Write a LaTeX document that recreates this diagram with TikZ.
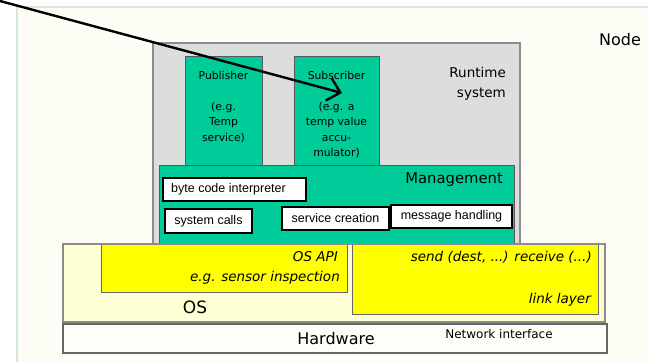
\documentclass[tikz,border=0pt]{standalone}
\usepackage{fontspec}
\setmainfont{DejaVu Sans}
\newfontfamily\arialf{Liberation Sans}
\usetikzlibrary{arrows.meta}
\definecolor{panelbg}{HTML}{FDFDF6}
\definecolor{panelrule}{HTML}{D3E8E0}
\definecolor{rtgray}{HTML}{DDDDDD}
\definecolor{rtedge}{HTML}{8C8C8C}
\definecolor{mgreen}{HTML}{00CC99}
\definecolor{osfill}{HTML}{FFFFD5}
\definecolor{yel}{HTML}{FFFF00}
\definecolor{hwfill}{HTML}{FEFEF8}
\begin{document}
\begin{tikzpicture}[x=1pt,y=-1pt,
  box/.style={anchor=north west, inner sep=0pt, outer sep=0pt},
  graybox/.style={box, draw=rtedge, fill=rtgray, line width=1.2pt},
  greenbox/.style={box, draw=black!65, fill=mgreen, line width=0.8pt},
  wbox/.style={box, draw=black, fill=white, line width=1.8pt},
  wtext/.style={font=\arialf\fontsize{12.5}{14}\selectfont, inner sep=0pt},
  osbox/.style={box, draw=rtedge, fill=osfill, line width=1.1pt},
  ybox/.style={box, draw=black!60, fill=yel, line width=0.8pt},
  hwbox/.style={box, draw=black!60, fill=hwfill, line width=1.2pt},
  ctext/.style={inner sep=0pt, align=center},
  itext/.style={inner sep=0pt, anchor=east, font=\itshape\fontsize{13.5}{16}\selectfont},
  arrowline/.style={line width=2.4pt, -{Straight Barb[length=12pt,width=23pt,line width=2.4pt]}}
]
\useasboundingbox (0,0) rectangle (648,362);
% background panel
\fill[white] (0,0) rectangle (648,362);
\fill[panelbg] (17,7) rectangle (648,362);
\draw[panelrule, line width=2pt] (17,362) -- (17,7) -- (648,7);

% runtime system
\node[graybox, minimum width=367pt, minimum height=201pt] (rt) at (153,43) {};
\node[greenbox, minimum width=77pt, minimum height=109pt] (pub) at (185,56) {};
\node[greenbox, minimum width=85pt, minimum height=109pt] (sub) at (294,56) {};
\node[ctext, anchor=north, font=\fontsize{10.8}{15.5}\selectfont] (pubt) at (223.5,71) {Publisher\\ \mbox{}\\(e.g.\\Temp\\service)};
\node[ctext, anchor=north, font=\fontsize{10.8}{15.5}\selectfont] (subt) at (336.5,71) {Subscriber\\ \mbox{}\\(e.g. a\\temp value\\accu-\\mulator)};
\node[inner sep=0pt, anchor=north east, align=right, font=\fontsize{13.5}{20}\selectfont] (rtt) at (506,67) {Runtime\\system};

% management
\node[greenbox, minimum width=355pt, minimum height=79pt] (mg) at (159,165) {};
\node[inner sep=0pt, anchor=east, font=\fontsize{14.8}{17}\selectfont] (mgt) at (503,180) {Management};
\node[wbox, minimum width=143pt, minimum height=23pt] (bci) at (163,178) {};
\node[wtext, anchor=west] (bcit) at (171,189.5) {byte code interpreter};
\node[wbox, minimum width=87pt, minimum height=24pt] (sc) at (165,209) {};
\node[wtext] (sct) at (sc.center) {system calls};
\node[wbox, minimum width=107pt, minimum height=23pt] (scr) at (282,207) {};
\node[wtext] (scrt) at (scr.center) {service creation};
\node[wbox, minimum width=121pt, minimum height=23pt] (mh) at (391,205) {};
\node[wtext] (mht) at (mh.center) {message handling};

% OS
\node[osbox, minimum width=542pt, minimum height=78pt] (os) at (63,244) {};
\node[ybox, minimum width=246pt, minimum height=48pt] (api) at (101,244) {};
\node[ybox, minimum width=246pt, minimum height=70pt] (link) at (352,244) {};
\draw[rtedge, line width=1.1pt] (os.north west) -- (os.north east);
\node[itext] (apit) at (338,257) {OS API};
\node[itext] (apit2) at (340,278) {e.g. sensor inspection};
\node[itext] (sendt) at (592,257) {send (dest, ...) receive (...)};
\node[itext] (linkt) at (591,300) {link layer};
\node[inner sep=0pt, font=\fontsize{17}{20}\selectfont] (ost) at (195,307) {OS};

% hardware
\node[hwbox, minimum width=544pt, minimum height=29pt] (hw) at (63,324) {};
\node[inner sep=0pt, font=\fontsize{16}{19}\selectfont] (hwt) at (336,339) {Hardware};
\node[inner sep=0pt, font=\fontsize{12}{14}\selectfont] (nit) at (499,334) {Network interface};

\node[inner sep=0pt, font=\fontsize{16}{19}\selectfont] (nodet) at (620,40) {Node};

% arrow
\coordinate (src) at (0,1);
\coordinate (dst) at (342,93);
\draw[arrowline] (src) -- (dst);
\end{tikzpicture}
\end{document}
